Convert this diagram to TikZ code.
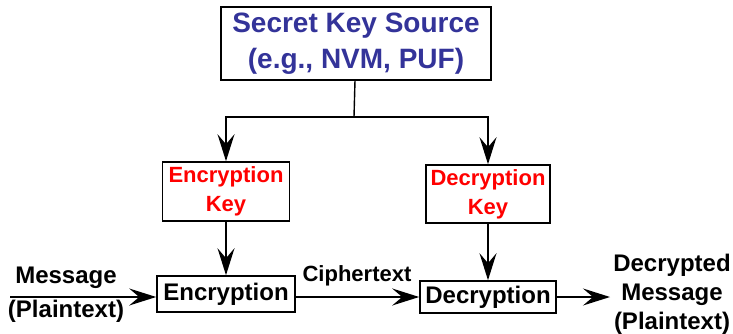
\documentclass[tikz,border=0pt]{standalone}
\usepackage{fontspec}
\setmainfont{Liberation Sans}
\usetikzlibrary{arrows.meta}
\definecolor{srcblue}{RGB}{51,51,153}
\tikzset{
    box/.style={draw, line width=1.6pt, inner sep=0pt, align=center},
    link/.style={line width=1.4pt},
    arrow/.style={link, -{Stealth[length=27pt, width=17pt, inset=10pt]}}
}
\begin{document}
\begin{tikzpicture}[x=1pt, y=-1pt]
    % Canvas: 733 x 334, origin at top left
    \useasboundingbox (0,0) rectangle (733,334);

    % Key source at the top
    \node[box, minimum width=270pt, minimum height=73pt, text=srcblue,
          font=\bfseries\fontsize{28}{36}\selectfont] (src) at (356,43.5)
        {Secret Key Source\\(e.g., NVM, PUF)};

    % Key boxes
    \node[box, minimum width=127pt, minimum height=59pt, text=red,
          font=\bfseries\fontsize{22}{29}\selectfont] (enckey) at (226,191.5)
        {Encryption\\Key};
    \node[box, minimum width=124pt, minimum height=58pt, text=red,
          font=\bfseries\fontsize{22}{29}\selectfont] (deckey) at (488,194)
        {Decryption\\Key};

    % Cipher boxes
    \node[box, minimum width=138pt, minimum height=36pt,
          font=\bfseries\fontsize{24}{29}\selectfont] (enc) at (226,294) {Encryption};
    \node[box, minimum width=136pt, minimum height=32pt,
          font=\bfseries\fontsize{24}{29}\selectfont] (dec) at (488,297) {Decryption};

    % Labels
    \node[align=center, font=\bfseries\fontsize{24}{34}\selectfont] (msg) at (66,295)
        {Message\\(Plaintext)};
    \node[font=\bfseries\fontsize{22}{26}\selectfont] (ciph) at (357,276) {Ciphertext};
    \node[align=center, font=\bfseries\fontsize{24}{29}\selectfont] (decmsg) at (672,294)
        {Decrypted\\Message\\(Plaintext)};

    % Connectors
    \coordinate (split) at (354,117);
    \coordinate (in) at (10,297);
    \coordinate (out) at (610,297);
    \draw[link] (src) -- (split);
    \draw[arrow] (split) -| (enckey.north);
    \draw[arrow] (split) -| (deckey.north);
    \draw[arrow] (enckey) -- (enc);
    \draw[arrow] (deckey) -- (dec);
    \draw[arrow] (in) -- (enc.west |- in);
    \draw[arrow] (enc.east |- dec.west) -- (dec.west);
    \draw[arrow] (dec.east) -- (out);
\end{tikzpicture}
\end{document}
